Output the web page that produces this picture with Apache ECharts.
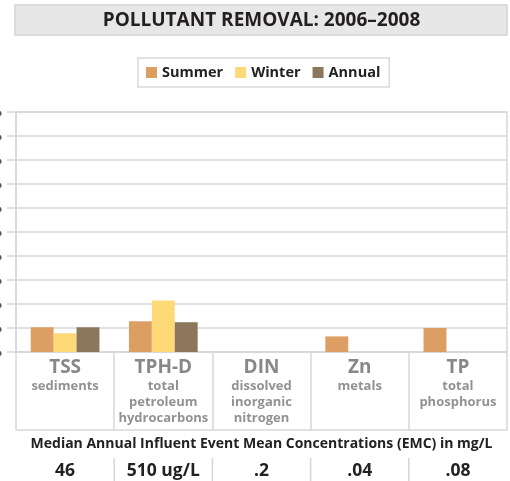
<!DOCTYPE html>
<html>
<head>
<meta charset="utf-8">
<script src="https://cdn.jsdelivr.net/npm/echarts@6/dist/echarts.min.js"></script>
<style>
  html, body { margin: 0; padding: 0; background: #fff; }
  #chart { width: 510px; height: 481px; }
</style>
</head>
<body>
<div id="chart"></div>
<script>
// Pollutant removal by season, 2006–2008
const titleText = 'POLLUTANT REMOVAL: 2006\u20132008';
const categories = ['TSS', 'TPH-D', 'DIN', 'Zn', 'TP'];
const subtitles = [
  ['sediments'],
  ['total', 'petroleum', 'hydrocarbons'],
  ['dissolved', 'inorganic', 'nitrogen'],
  ['metals'],
  ['total', 'phosphorus']
];
const summer = [10.3, 12.8, null, 6.5, 10];
const winter = [7.8, 21.5, null, null, null];
const annual = [10.3, 12.4, null, null, null];
const emcHeading = 'Median Annual Influent Event Mean Concentrations (EMC) in mg/L';
const emcValues = ['46', '510 ug/L', '.2', '.04', '.08'];

const FONT = '"Open Sans", "Noto Sans", sans-serif';
const LINE = '#d7d7d7';

const chart = echarts.init(document.getElementById('chart'), null, { renderer: 'canvas' });

const option = {
  animation: false,
  textStyle: { fontFamily: FONT },
  legend: {
    data: ['Summer', 'Winter', 'Annual'],
    top: 58,
    left: 138,
    icon: 'rect',
    itemWidth: 11,
    itemHeight: 11,
    itemGap: 12,
    padding: [7, 9, 7, 8],
    borderColor: '#d9d9d9',
    borderWidth: 1.5,
    textStyle: { fontFamily: FONT, fontWeight: 'bold', fontSize: 14.5, color: '#222' }
  },
  grid: {
    left: 16, right: 3, top: 112, bottom: 129,
    outerBoundsMode: 'none',
    show: true, borderColor: LINE, borderWidth: 1.5
  },
  xAxis: [
    {
      type: 'category',
      data: categories,
      axisLine: { lineStyle: { color: LINE, width: 1.5 } },
      axisTick: { show: true, length: 78, lineStyle: { color: LINE, width: 1.5 } },
      axisLabel: {
        interval: 0,
        margin: 6,
        formatter: function (v, i) {
          return '{t|' + v + '}\n' + subtitles[i].map(function (s) { return '{s|' + s + '}'; }).join('\n');
        },
        rich: {
          t: { fontFamily: FONT, fontWeight: 'bold', fontSize: 19, lineHeight: 20, color: '#888888' },
          s: { fontFamily: FONT, fontWeight: 'bold', fontSize: 13, lineHeight: 16, color: '#929292' }
        }
      }
    },
    {
      type: 'category',
      data: emcValues,
      position: 'bottom',
      offset: 78,
      axisLine: { lineStyle: { color: LINE, width: 1.5 } },
      axisTick: { show: false },
      axisLabel: { interval: 0, margin: 32, fontFamily: FONT, fontWeight: 'bold', fontSize: 17.5, color: '#222' },
      name: emcHeading,
      nameLocation: 'middle',
      nameGap: 7,
      nameMoveOverlap: false,
      nameTextStyle: { fontFamily: FONT, fontWeight: 'bold', fontSize: 14, color: '#222', verticalAlign: 'top' }
    }
  ],
  yAxis: {
    type: 'value',
    min: 0,
    max: 100,
    interval: 10,
    axisLine: { show: true, lineStyle: { color: LINE, width: 1.5 } },
    axisTick: { show: true, length: 9, lineStyle: { color: LINE, width: 1.5 } },
    splitLine: { lineStyle: { color: LINE, width: 1.5 } },
    axisLabel: { margin: 14, formatter: '{value}%', fontFamily: FONT, fontWeight: 'bold', fontSize: 13, color: '#555' }
  },
  series: [
    { name: 'Summer', type: 'bar', data: summer, itemStyle: { color: '#dc9e63' }, barGap: '0%', barCategoryGap: '30%' },
    { name: 'Winter', type: 'bar', data: winter, itemStyle: { color: '#fdd977' }, barGap: '0%', barCategoryGap: '30%' },
    { name: 'Annual', type: 'bar', data: annual, itemStyle: { color: '#8d775c' }, barGap: '0%', barCategoryGap: '30%' }
  ]
};

chart.setOption(option);

// Title banner and the dividers between the EMC value cells
const rect = chart.getModel().getComponent('grid', 0).coordinateSystem.getRect();
const centers = categories.map(function (c, i) { return chart.convertToPixel({ xAxisIndex: 0 }, i); });
const dividers = [];
for (let i = 0; i < centers.length - 1; i++) {
  const x = (centers[i] + centers[i + 1]) / 2;
  dividers.push({
    type: 'line',
    shape: { x1: x, y1: rect.y + rect.height + 106, x2: x, y2: 481 },
    style: { stroke: LINE, lineWidth: 1.5 },
    silent: true
  });
}

chart.setOption({
  graphic: [
    {
      type: 'rect',
      shape: { x: rect.x - 1, y: 5, width: rect.width + 1, height: 30 },
      style: { fill: '#e7e7e8', stroke: '#d4d4d4', lineWidth: 1.5 },
      silent: true
    },
    {
      type: 'text',
      x: rect.x + rect.width / 2,
      y: 21,
      style: {
        text: titleText,
        fontFamily: FONT,
        fontWeight: 'bold',
        fontSize: 19,
        fill: '#231f20',
        align: 'center',
        verticalAlign: 'middle'
      },
      silent: true
    }
  ].concat(dividers)
});
</script>
</body>
</html>
